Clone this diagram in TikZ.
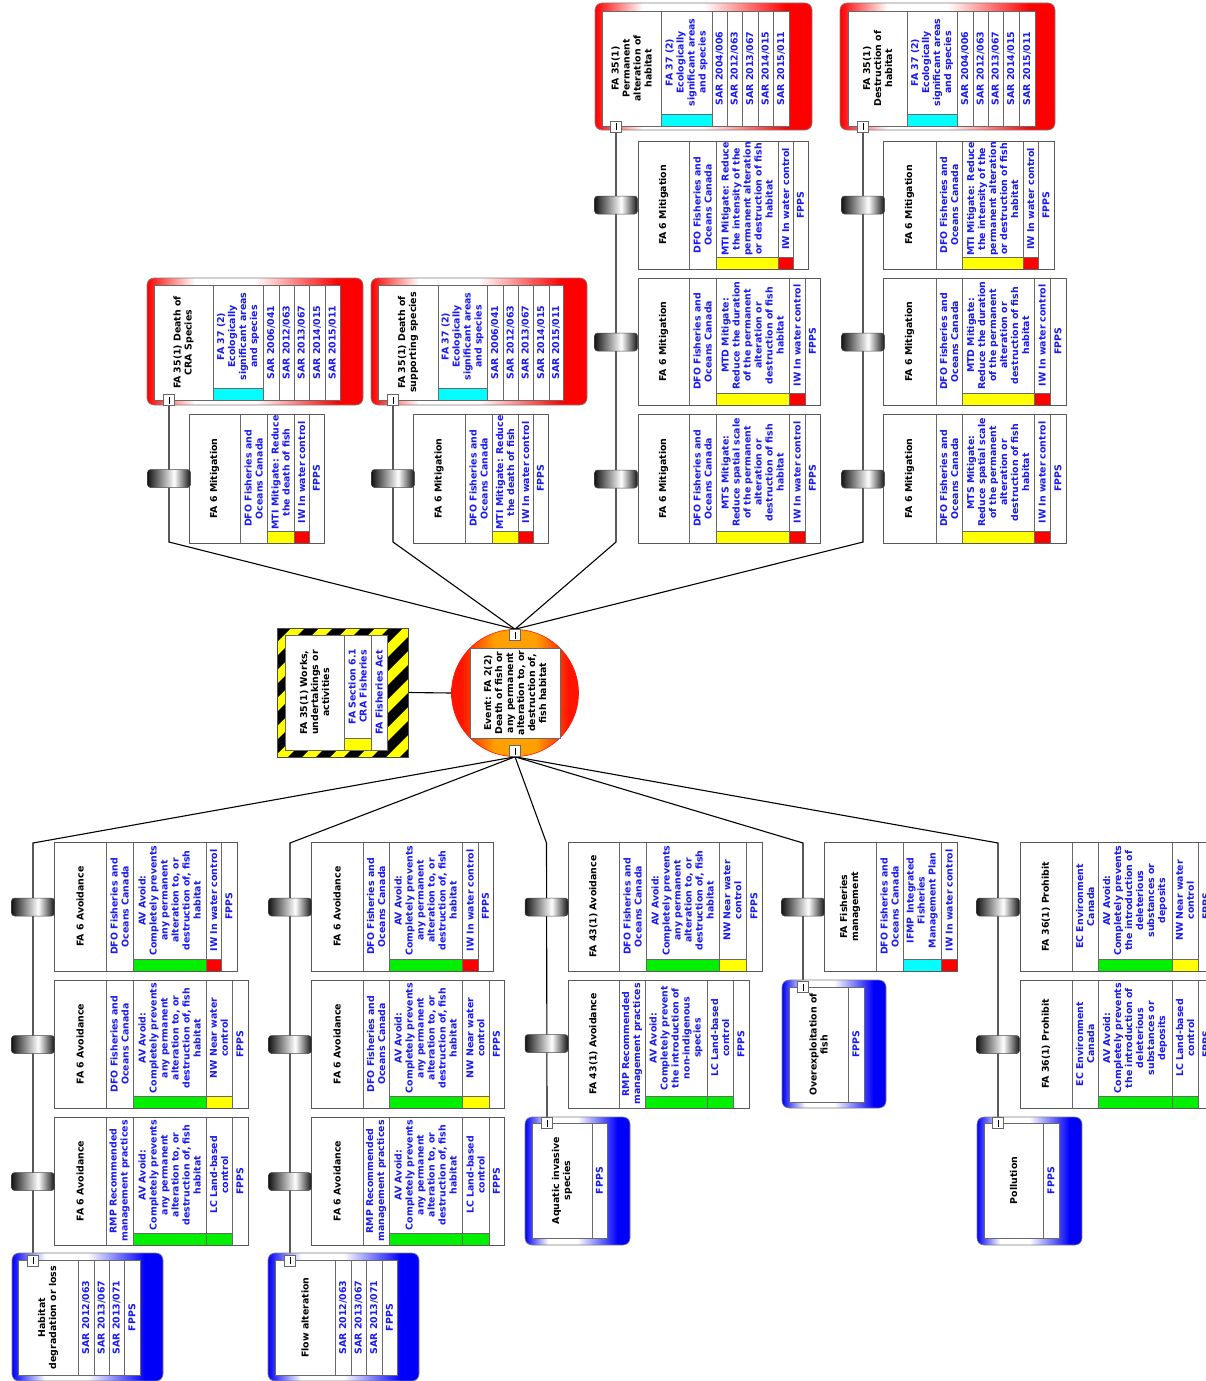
\documentclass[tikz,border=0pt]{standalone}
\usepackage{fontspec}
\setmainfont{DejaVu Sans}
\usetikzlibrary{fit,shadings}
\definecolor{txb}{RGB}{25,25,240}
\definecolor{cellc}{RGB}{105,105,105}
\definecolor{rd}{RGB}{255,0,0}
\definecolor{bl}{RGB}{0,0,250}
\definecolor{grn}{RGB}{0,240,0}
\definecolor{ylw}{RGB}{255,255,0}
\definecolor{cyn}{RGB}{0,255,255}
\definecolor{cyldark}{gray}{0.08}
\definecolor{evorange}{RGB}{255,160,0}
\definecolor{evred}{RGB}{255,20,0}
\pgfdeclarehorizontalshading{redframe}{100bp}{color(0bp)=(rd); color(25bp)=(rd); color(36bp)=(white); color(50bp)=(white); color(69bp)=(rd); color(100bp)=(rd)}
\pgfdeclarehorizontalshading{blueframe}{100bp}{color(0bp)=(bl); color(25bp)=(bl); color(36bp)=(white); color(50bp)=(white); color(69bp)=(bl); color(100bp)=(bl)}
\pgfdeclarehorizontalshading{cylshade}{100bp}{color(0bp)=(cyldark); color(25bp)=(cyldark); color(56bp)=(white); color(75bp)=(cyldark); color(100bp)=(cyldark)}
\pgfdeclarehorizontalshading{evshade}{100bp}{color(0bp)=(evred); color(29bp)=(evred); color(42bp)=(evorange); color(58bp)=(evorange); color(71bp)=(evred); color(100bp)=(evred)}
\pgfdeclarelayer{back}
\pgfdeclarelayer{lines}
\pgfsetlayers{back,lines,main}
\newcounter{cn}
\newcommand\fs{\fontsize{9.4}{11}\selectfont\bfseries}
\newcommand\Bcell[6]{\stepcounter{cn}\draw[cell,fill=white] (#1,#3) rectangle (#2,#4);\node[#5] (t\arabic{cn}) at ({(#1+#2)/2},{(#3+#4)/2}) {#6};}
\newcommand\Bstrip[7]{\stepcounter{cn}\draw[cell,fill=white] (#1,#3) rectangle (#2,#4);\draw[cell,fill=#7] (#1,#4-12) rectangle (#2,#4);\node[#5] (t\arabic{cn}) at ({(#1+#2)/2},{(#3+#4-12)/2}) {#6};}
\newcommand\Bbox[5]{\node[fit={(#2,#3) (#4,#5)}, inner sep=0pt, draw=black!65, line width=0.8pt] (#1) {};}
\newcommand\Bframe[6]{\node[fit={(#2,#3) (#4,#5)}, inner sep=0pt, rounded corners=7pt, shading=#6, draw=black!50, line width=0.6pt] (#1) {};}
\newcommand\tDFO{DFO Fisheries and\\Oceans Canada}
\newcommand\tAV{AV Avoid:\\Completely prevents\\any permanent\\alteration to, or\\destruction of, fish\\habitat}
\newcommand\tECO{FA 37 (2)\\Ecologically\\significant areas\\and species}
\newcommand\tMTI{MTI Mitigate: Reduce\\the intensity of the\\permanent alteration\\or destruction of fish\\habitat}
\newcommand\tMTD{MTD Mitigate:\\Reduce the duration\\of the permanent\\alteration or\\destruction of fish\\habitat}
\newcommand\tMTS{MTS Mitigate:\\Reduce spatial scale\\of the permanent\\alteration or\\destruction of fish\\habitat}
\newcommand\tRMP{RMP Recommended\\management practices}
\newcommand\tNW{NW Near water\\control}
\newcommand\tLC{LC Land-based\\control}
\newcommand\tIW{IW In water control}
\newcommand\tEC{EC Environment\\Canada}
\newcommand\tAVD{AV Avoid:\\Completely prevents\\the introduction of\\deleterious\\substances or\\deposits}
\begin{document}
\begin{tikzpicture}[x=1pt,y=-1pt,
  conn/.style={draw=black, line width=1.1pt},
  cell/.style={draw=cellc, line width=0.7pt},
  bt/.style={rotate=90, align=center, inner sep=0pt, font=\fs, text=txb},
  tt/.style={bt, text=black},
  cyl/.style={rounded corners=3pt, minimum width=43pt, minimum height=18pt, inner sep=0pt, shading=cylshade, draw=black!70, line width=0.5pt},
  isq/.style={draw=black!60, fill=white, minimum size=11pt, inner sep=0pt, line width=0.6pt,
    path picture={\draw[black, line width=0.6pt] ([yshift=-3.5pt]path picture bounding box.center) -- ([yshift=3.5pt]path picture bounding box.center);}}
]
\clip (0,0) rectangle (1206,1381);
\begin{pgfonlayer}{back}
\fill[white] (0,0) rectangle (1206,1381);
\end{pgfonlayer}

% ---------- consequences (top) ----------
\Bframe{C1}{595}{3}{812}{130}{redframe}
\Bcell{602}{661}{11}{126}{tt}{FA 35(1)\\Permanent\\alteration of\\habitat}
\Bstrip{661}{712}{11}{126}{bt}{\tECO}{cyn}
\Bcell{712}{727}{11}{126}{bt}{SAR 2004/006}
\Bcell{727}{742}{11}{126}{bt}{SAR 2012/063}
\Bcell{742}{758}{11}{126}{bt}{SAR 2013/067}
\Bcell{758}{773}{11}{126}{bt}{SAR 2014/015}
\Bcell{773}{789}{11}{126}{bt}{SAR 2015/011}
\node[isq] (iC1) at (616,126.5) {};

\Bframe{C2}{840}{3}{1055}{130}{redframe}
\Bcell{848}{907}{11}{126}{tt}{FA 35(1)\\Destruction of\\habitat}
\Bstrip{907}{957}{11}{126}{bt}{\tECO}{cyn}
\Bcell{957}{973}{11}{126}{bt}{SAR 2004/006}
\Bcell{973}{988}{11}{126}{bt}{SAR 2012/063}
\Bcell{988}{1003}{11}{126}{bt}{SAR 2013/067}
\Bcell{1003}{1019}{11}{126}{bt}{SAR 2014/015}
\Bcell{1019}{1035}{11}{126}{bt}{SAR 2015/011}
\node[isq] (iC2) at (863,126.5) {};

\Bframe{C3}{147}{278}{363}{405}{redframe}
\Bcell{154}{213}{285}{400}{tt}{FA 35(1) Death of\\CRA Species}
\Bstrip{213}{263}{285}{400}{bt}{\tECO}{cyn}
\Bcell{263}{279}{285}{400}{bt}{SAR 2006/041}
\Bcell{279}{294}{285}{400}{bt}{SAR 2012/063}
\Bcell{294}{309}{285}{400}{bt}{SAR 2013/067}
\Bcell{309}{325}{285}{400}{bt}{SAR 2014/015}
\Bcell{325}{340}{285}{400}{bt}{SAR 2015/011}
\node[isq] (iC3) at (169,400) {};

\Bframe{C4}{371}{278}{587}{405}{redframe}
\Bcell{378}{438}{285}{400}{tt}{FA 35(1) Death of\\supporting species}
\Bstrip{438}{487}{285}{400}{bt}{\tECO}{cyn}
\Bcell{487}{503}{285}{400}{bt}{SAR 2006/041}
\Bcell{503}{518}{285}{400}{bt}{SAR 2012/063}
\Bcell{518}{533}{285}{400}{bt}{SAR 2013/067}
\Bcell{533}{549}{285}{400}{bt}{SAR 2014/015}
\Bcell{549}{563}{285}{400}{bt}{SAR 2015/011}
\node[isq] (iC4) at (393,400) {};

% ---------- mitigation barriers ----------
\Bcell{189}{240}{414}{543}{tt}{FA 6 Mitigation}
\Bcell{240}{267}{414}{543}{bt}{\tDFO}
\Bstrip{267}{294}{414}{543}{bt}{MTI Mitigate: Reduce\\the death of fish}{ylw}
\Bstrip{294}{309}{414}{543}{bt}{\tIW}{rd}
\Bcell{309}{324}{414}{543}{bt}{FPPS}
\Bbox{M1}{189}{414}{324}{543}

\Bcell{413}{465}{414}{543}{tt}{FA 6 Mitigation}
\Bcell{465}{492}{414}{543}{bt}{\tDFO}
\Bstrip{492}{518}{414}{543}{bt}{MTI Mitigate: Reduce\\the death of fish}{ylw}
\Bstrip{518}{533}{414}{543}{bt}{\tIW}{rd}
\Bcell{533}{548}{414}{543}{bt}{FPPS}
\Bbox{M2}{413}{414}{548}{543}

\Bcell{638}{689}{141}{269}{tt}{FA 6 Mitigation}
\Bcell{689}{716}{141}{269}{bt}{\tDFO}
\Bstrip{716}{778}{141}{269}{bt}{\tMTI}{ylw}
\Bstrip{778}{793}{141}{269}{bt}{\tIW}{rd}
\Bcell{793}{808}{141}{269}{bt}{FPPS}
\Bbox{M3}{638}{141}{808}{269}

\Bcell{638}{689}{278}{405}{tt}{FA 6 Mitigation}
\Bcell{689}{716}{278}{405}{bt}{\tDFO}
\Bstrip{716}{789}{278}{405}{bt}{\tMTD}{ylw}
\Bstrip{789}{805}{278}{405}{bt}{\tIW}{rd}
\Bcell{805}{820}{278}{405}{bt}{FPPS}
\Bbox{M4}{638}{278}{820}{405}

\Bcell{638}{689}{414}{543}{tt}{FA 6 Mitigation}
\Bcell{689}{716}{414}{543}{bt}{\tDFO}
\Bstrip{716}{789}{414}{543}{bt}{\tMTS}{ylw}
\Bstrip{789}{805}{414}{543}{bt}{\tIW}{rd}
\Bcell{805}{820}{414}{543}{bt}{FPPS}
\Bbox{M5}{638}{414}{820}{543}

\Bcell{883}{936}{141}{269}{tt}{FA 6 Mitigation}
\Bcell{936}{962}{141}{269}{bt}{\tDFO}
\Bstrip{962}{1023}{141}{269}{bt}{\tMTI}{ylw}
\Bstrip{1023}{1038}{141}{269}{bt}{\tIW}{rd}
\Bcell{1038}{1054}{141}{269}{bt}{FPPS}
\Bbox{M6}{883}{141}{1054}{269}

\Bcell{883}{936}{278}{405}{tt}{FA 6 Mitigation}
\Bcell{936}{962}{278}{405}{bt}{\tDFO}
\Bstrip{962}{1034}{278}{405}{bt}{\tMTD}{ylw}
\Bstrip{1034}{1050}{278}{405}{bt}{\tIW}{rd}
\Bcell{1050}{1066}{278}{405}{bt}{FPPS}
\Bbox{M7}{883}{278}{1066}{405}

\Bcell{883}{936}{414}{543}{tt}{FA 6 Mitigation}
\Bcell{936}{962}{414}{543}{bt}{\tDFO}
\Bstrip{962}{1034}{414}{543}{bt}{\tMTS}{ylw}
\Bstrip{1034}{1050}{414}{543}{bt}{\tIW}{rd}
\Bcell{1050}{1066}{414}{543}{bt}{FPPS}
\Bbox{M8}{883}{414}{1066}{543}

% ---------- hazard ----------
\begin{scope}
\clip (277,628) rectangle (408,757);
\fill[ylw] (277,628) rectangle (408,757);
\foreach \k in {0,...,10} {\fill[black] ({148+\k*28},757) -- ++(14,0) -- ++(129,-129) -- ++(-14,0) -- cycle;}
\end{scope}
\node[fit={(277,628) (408,757)}, inner sep=0pt, draw=black!70, line width=0.8pt] (hz) {};
\Bcell{285}{344}{635}{750}{tt}{FA 35(1) Works,\\undertakings or\\activities}
\Bstrip{344}{371}{635}{750}{bt}{FA Section 6.1\\CRA Fisheries}{ylw}
\Bcell{371}{387}{635}{750}{bt}{FA Fisheries Act}

% ---------- event ----------
\node[circle, minimum size=127pt, inner sep=0pt, shading=evshade, draw=evred, line width=0.6pt] (ev) at (515,693) {};
\Bcell{470}{560}{648}{738}{tt}{Event: FA 2(2)\\Death of fish or\\any permanent\\alteration to, or\\destruction of,\\fish habitat}
\node[isq] (evt) at (515,635) {};
\node[isq] (evb) at (515,751) {};

% ---------- avoidance barriers (bottom) ----------
\Bcell{54}{106}{842}{971}{tt}{FA 6 Avoidance}
\Bcell{106}{133}{842}{971}{bt}{\tDFO}
\Bstrip{133}{206}{842}{971}{bt}{\tAV}{grn}
\Bstrip{206}{221}{842}{971}{bt}{\tIW}{rd}
\Bcell{221}{237}{842}{971}{bt}{FPPS}
\Bbox{A1}{54}{842}{237}{971}

\Bcell{54}{106}{980}{1108}{tt}{FA 6 Avoidance}
\Bcell{106}{133}{980}{1108}{bt}{\tDFO}
\Bstrip{133}{206}{980}{1108}{bt}{\tAV}{grn}
\Bstrip{206}{232}{980}{1108}{bt}{\tNW}{ylw}
\Bcell{232}{248}{980}{1108}{bt}{FPPS}
\Bbox{A2}{54}{980}{248}{1108}

\Bcell{54}{106}{1117}{1245}{tt}{FA 6 Avoidance}
\Bcell{106}{133}{1117}{1245}{bt}{\tRMP}
\Bstrip{133}{206}{1117}{1245}{bt}{\tAV}{grn}
\Bstrip{206}{232}{1117}{1245}{bt}{\tLC}{grn}
\Bcell{232}{248}{1117}{1245}{bt}{FPPS}
\Bbox{A3}{54}{1117}{248}{1245}

\Bcell{311}{363}{842}{971}{tt}{FA 6 Avoidance}
\Bcell{363}{389}{842}{971}{bt}{\tDFO}
\Bstrip{389}{462}{842}{971}{bt}{\tAV}{grn}
\Bstrip{462}{478}{842}{971}{bt}{\tIW}{rd}
\Bcell{478}{493}{842}{971}{bt}{FPPS}
\Bbox{B1}{311}{842}{493}{971}

\Bcell{311}{363}{980}{1108}{tt}{FA 6 Avoidance}
\Bcell{363}{389}{980}{1108}{bt}{\tDFO}
\Bstrip{389}{462}{980}{1108}{bt}{\tAV}{grn}
\Bstrip{462}{489}{980}{1108}{bt}{\tNW}{ylw}
\Bcell{489}{504}{980}{1108}{bt}{FPPS}
\Bbox{B2}{311}{980}{504}{1108}

\Bcell{311}{363}{1117}{1245}{tt}{FA 6 Avoidance}
\Bcell{363}{389}{1117}{1245}{bt}{\tRMP}
\Bstrip{389}{462}{1117}{1245}{bt}{\tAV}{grn}
\Bstrip{462}{489}{1117}{1245}{bt}{\tLC}{grn}
\Bcell{489}{504}{1117}{1245}{bt}{FPPS}
\Bbox{B3}{311}{1117}{504}{1245}

\Bcell{568}{619}{842}{971}{tt}{FA 43(1) Avoidance}
\Bcell{619}{646}{842}{971}{bt}{\tDFO}
\Bstrip{646}{719}{842}{971}{bt}{\tAV}{grn}
\Bstrip{719}{746}{842}{971}{bt}{\tNW}{ylw}
\Bcell{746}{762}{842}{971}{bt}{FPPS}
\Bbox{D1}{568}{842}{762}{971}

\Bcell{568}{619}{980}{1108}{tt}{FA 43(1) Avoidance}
\Bcell{619}{645}{980}{1108}{bt}{\tRMP}
\Bstrip{645}{707}{980}{1108}{bt}{AV Avoid:\\Completely prevent\\the introduction of\\non-indigenous\\species}{grn}
\Bstrip{707}{733}{980}{1108}{bt}{\tLC}{grn}
\Bcell{733}{749}{980}{1108}{bt}{FPPS}
\Bbox{D2}{568}{980}{749}{1108}

\Bcell{824}{876}{842}{971}{tt}{FA Fisheries\\management}
\Bcell{876}{903}{842}{971}{bt}{\tDFO}
\Bstrip{903}{941}{842}{971}{bt}{IFMP Integrated\\Fisheries\\Management Plan}{cyn}
\Bstrip{941}{957}{842}{971}{bt}{\tIW}{rd}
\Bbox{E1}{824}{842}{957}{971}

\Bcell{1020}{1072}{842}{971}{tt}{FA 36(1) Prohibit}
\Bcell{1072}{1098}{842}{971}{bt}{\tEC}
\Bstrip{1098}{1172}{842}{971}{bt}{\tAVD}{grn}
\Bstrip{1172}{1198}{842}{971}{bt}{\tNW}{ylw}
\Bcell{1198}{1214}{842}{971}{bt}{FPPS}
\Bbox{F1}{1020}{842}{1214}{971}

\Bcell{1020}{1072}{980}{1108}{tt}{FA 36(1) Prohibit}
\Bcell{1072}{1098}{980}{1108}{bt}{\tEC}
\Bstrip{1098}{1172}{980}{1108}{bt}{\tAVD}{grn}
\Bstrip{1172}{1198}{980}{1108}{bt}{\tLC}{grn}
\Bcell{1198}{1214}{980}{1108}{bt}{FPPS}
\Bbox{F2}{1020}{980}{1214}{1108}

% ---------- threats (bottom) ----------
\Bframe{T1}{12}{1253}{163}{1381}{blueframe}
\Bcell{18}{78}{1260}{1375}{tt}{Habitat\\degradation or loss}
\Bcell{78}{94}{1260}{1375}{bt}{SAR 2012/063}
\Bcell{94}{109}{1260}{1375}{bt}{SAR 2013/067}
\Bcell{109}{124}{1260}{1375}{bt}{SAR 2013/071}
\Bcell{124}{140}{1260}{1375}{bt}{FPPS}
\node[isq] (iT1) at (33,1260.5) {};

\Bframe{T2}{268}{1253}{419}{1381}{blueframe}
\Bcell{275}{335}{1260}{1375}{tt}{Flow alteration}
\Bcell{335}{351}{1260}{1375}{bt}{SAR 2012/063}
\Bcell{351}{366}{1260}{1375}{bt}{SAR 2013/067}
\Bcell{366}{382}{1260}{1375}{bt}{SAR 2013/071}
\Bcell{382}{397}{1260}{1375}{bt}{FPPS}
\node[isq] (iT2) at (290,1260.5) {};

\Bframe{T3}{525}{1117}{630}{1245}{blueframe}
\Bcell{532}{592}{1123}{1238}{tt}{Aquatic invasive\\species}
\Bcell{592}{607}{1123}{1238}{bt}{FPPS}
\node[isq] (iT3) at (547,1123) {};

\Bframe{T4}{782}{980}{886}{1108}{blueframe}
\Bcell{789}{848}{987}{1102}{tt}{Overexploitation of\\fish}
\Bcell{848}{864}{987}{1102}{bt}{FPPS}
\node[isq] (iT4) at (803,987) {};

\Bframe{T5}{977}{1117}{1082}{1245}{blueframe}
\Bcell{984}{1043}{1123}{1238}{tt}{Pollution}
\Bcell{1043}{1059}{1123}{1238}{bt}{FPPS}
\node[isq] (iT5) at (998,1123) {};

% ---------- barrier cylinders ----------
\node[cyl] (k1) at (169,478.5) {};
\node[cyl] (k2) at (393,478.5) {};
\node[cyl] (k3) at (616,205) {};
\node[cyl] (k4) at (616,342) {};
\node[cyl] (k5) at (616,479) {};
\node[cyl] (k6) at (863,205) {};
\node[cyl] (k7) at (863,342) {};
\node[cyl] (k8) at (863,479) {};
\node[cyl] (k9) at (33,907) {};
\node[cyl] (k10) at (33,1044.5) {};
\node[cyl] (k11) at (33,1181.5) {};
\node[cyl] (k12) at (290,907) {};
\node[cyl] (k13) at (290,1044.5) {};
\node[cyl] (k14) at (290,1181.5) {};
\node[cyl] (k15) at (546.5,907) {};
\node[cyl] (k16) at (546.5,1043.5) {};
\node[cyl] (k17) at (803,907) {};
\node[cyl] (k18) at (998,907) {};
\node[cyl] (k19) at (998,1044.5) {};

% ---------- connectors ----------
\coordinate (jt1) at (169,542);
\coordinate (jt2) at (393,542);
\coordinate (jt3) at (616,542);
\coordinate (jt4) at (863,542);
\coordinate (jb1) at (33,843);
\coordinate (jb2) at (290,843);
\coordinate (jb3) at (546.5,843);
\coordinate (jb4) at (803,843);
\coordinate (jb5) at (998,843);
\begin{pgfonlayer}{lines}
\draw[conn] (hz.east) -- (ev.west);
\draw[conn] (evt.north) -- (jt1) -- (iC3.south);
\draw[conn] (evt.north) -- (jt2) -- (iC4.south);
\draw[conn] (evt.north) -- (jt3) -- (iC1.south);
\draw[conn] (evt.north) -- (jt4) -- (iC2.south);
\draw[conn] (evb.south) -- (jb1) -- (iT1.north);
\draw[conn] (evb.south) -- (jb2) -- (iT2.north);
\draw[conn] (evb.south) -- (jb3) -- (iT3.north);
\draw[conn] (evb.south) -- (jb4) -- (iT4.north);
\draw[conn] (evb.south) -- (jb5) -- (iT5.north);
\end{pgfonlayer}
\end{tikzpicture}
\end{document}
